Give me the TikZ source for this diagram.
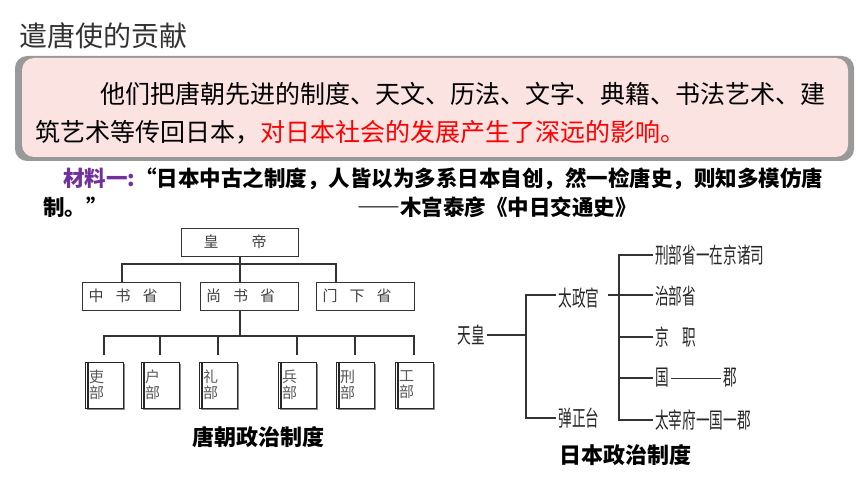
\documentclass[tikz,border=0pt]{standalone}
\usepackage{fontspec}
\usepackage{graphicx}
\setmainfont{Noto Sans CJK SC}
\newcommand{\narrowtext}[1]{\scalebox{0.62}[1]{#1}}
\newcommand{\fulldash}[1]{{\addfontfeature{RawFeature=+fwid}#1}}
\usetikzlibrary{shadows}
\definecolor{boxpink}{RGB}{250,227,224}
\definecolor{matpurple}{RGB}{112,48,160}

\begin{document}
\begin{tikzpicture}[x=1pt,y=-1pt]
\tikzstyle{every node}=[inner sep=0pt]
\tikzstyle{txt}=[anchor=west,font=\fontsize{25}{30}\selectfont]
\tikzstyle{mat}=[anchor=west,font=\bfseries\fontsize{21.5}{25}\selectfont]
\tikzstyle{office}=[draw=black!80,line width=1pt,minimum height=28pt,text width=86pt,inner xsep=6pt,align=left,text=black!75,font=\fontsize{15}{17}\selectfont]
\tikzstyle{book}=[draw=black!85,line width=1pt,fill=white,minimum width=38pt,minimum height=46pt,text width=30pt,inner xsep=4pt,align=left,text=black!65,font=\fontsize{15}{16}\selectfont,drop shadow={shadow xshift=2pt,shadow yshift=-2pt,fill=black!45,opacity=1},path picture={\draw[line width=1.4pt] ([xshift=3pt]path picture bounding box.north west) -- ([xshift=3pt]path picture bounding box.south west);}]
\tikzstyle{jp}=[font=\fontsize{22}{24}\selectfont,text=black!85,inner xsep=2pt]
\tikzstyle{link}=[draw=black!80,line width=1.2pt]
\tikzstyle{chartcap}=[font=\bfseries\fontsize{22}{26}\selectfont]
\useasboundingbox (0,0) rectangle (860,484);
% heading and text box
\node[anchor=west,font=\fontsize{28}{32}\selectfont,text=black!80] (title) at (19,36) {遣唐使的贡献};
\fill[black!40,rounded corners=12pt] (15,56) rectangle (854,161);
\fill[boxpink,rounded corners=12pt] (22,58) rectangle (848,157);
\node[txt] (line1) at (100,94) {他们把唐朝先进的制度、天文、历法、文字、典籍、书法艺术、建};
\node[txt] (line2) at (35,132) {筑艺术等传回日本，\textcolor{red}{对日本社会的发展产生了深远的影响。}};
\node[mat] (mat1) at (63,179) {\textcolor{matpurple}{材料一:}“日本中古之制度，人皆以为多系日本自创，然一检唐史，则知多模仿唐};
\node[mat] (mat2) at (43,207) {制。”};
\node[mat] (source) at (357,207) {\fulldash{——}木宫泰彦《中日交通史》};
% Tang
\node[office,text width=105pt] (emperor) at (240,242) {\hspace{16pt}皇\hspace{33pt}帝};
\node[office] (zsx) at (131.5,296) {中\hspace{12pt}书\hspace{12pt}省};
\node[office] (ssx) at (249,296) {尚\hspace{12pt}书\hspace{12pt}省};
\node[office] (mxs) at (365.5,296) {门\hspace{12pt}下\hspace{12pt}省};
\coordinate (bar1) at (240,264);
\coordinate (bar2) at (240,336);
\draw[link] (emperor.south) -- (bar1);
\draw[link] (bar1) -| ([xshift=-9.5pt]zsx.north);
\draw[link] (bar1) -| ([xshift=-29.5pt]mxs.north);
\draw[link] (bar1) -- ([xshift=-9pt]ssx.north);
\draw[link] ([xshift=-9pt]ssx.south) -- (bar2);
\node[book] (libu) at (104,385) {吏\\部};
\node[book] (hubu) at (160,385) {户\\部};
\node[book] (lbu) at (218,385) {礼\\部};
\node[book] (bingbu) at (297,385) {兵\\部};
\node[book] (xingbu) at (355,385) {刑\\部};
\node[book] (gongbu) at (414,385) {工\\部};
\foreach \b in {libu,hubu,lbu,bingbu,xingbu,gongbu}
  \draw[link,shorten >=7pt] (bar2) -| (\b.north);
\node[chartcap] (tangcap) at (258,437) {唐朝政治制度};
% Japan
\node[jp] (tenno) at (471,335) {\narrowtext{天皇}};
\node[jp] (dajo) at (579,298) {\narrowtext{太政官}};
\node[jp] (danjo) at (579,418) {\narrowtext{弹正台}};
\coordinate (fork1) at (526,335);
\draw[link] (tenno.east) -- (fork1);
\draw[link] ([yshift=3pt]dajo.west) -| (fork1) |- (danjo.west);
\node[jp,anchor=west] (xbs) at (653,255) {\narrowtext{刑部省一在京诸司}};
\node[jp,anchor=west] (zbs) at (653,296) {\narrowtext{治部省}};
\node[jp,anchor=west] (jz) at (653,337) {\narrowtext{京\hspace{22pt}职}};
\node[jp,anchor=west] (guo) at (653,378) {\narrowtext{国}};
\node[jp,anchor=west] (jun) at (721,378) {\narrowtext{郡}};
\node[jp,anchor=west] (dzf) at (653,420) {\narrowtext{太宰府一国一郡}};
\coordinate (fork2) at (619,295);
\draw[link,shorten <=6pt] ([yshift=3pt]dajo.east) -- ([yshift=1pt]zbs.west);
\draw[link] (xbs.west) -| (fork2) |- (dzf.west);
\foreach \n in {jz,guo}
  \draw[link] (fork2) |- (\n.west);
\draw[link,line width=1pt] (guo) -- (jun);
\node[chartcap] (jpcap) at (625,455) {日本政治制度};
\end{tikzpicture}
\end{document}
